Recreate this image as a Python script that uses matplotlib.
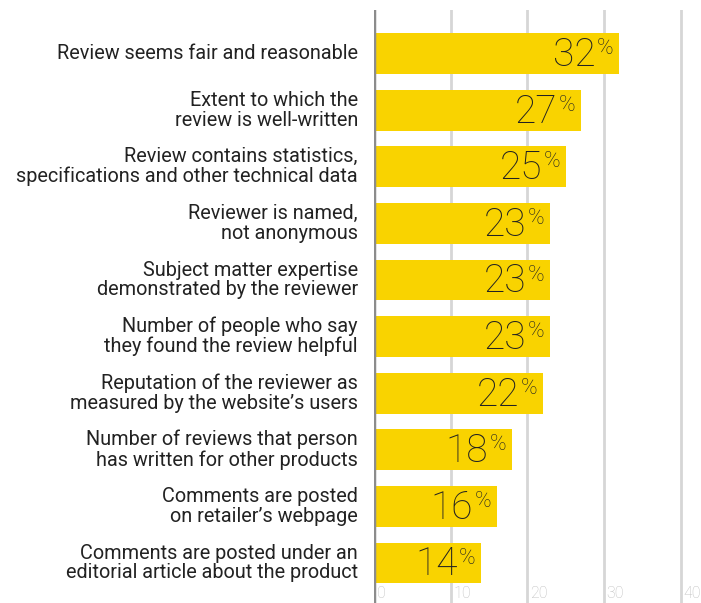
import matplotlib.pyplot as plt

# data
labels = [
    'Review seems fair and reasonable',
    'Extent to which the\nreview is well-written',
    'Review contains statistics,\nspecifications and other technical data',
    'Reviewer is named,\nnot anonymous',
    'Subject matter expertise\ndemonstrated by the reviewer',
    'Number of people who say\nthey found the review helpful',
    'Reputation of the reviewer as\nmeasured by the website\u2019s users',
    'Number of reviews that person\nhas written for other products',
    'Comments are posted\non retailer\u2019s webpage',
    'Comments are posted under an\neditorial article about the product',
]
values = [32, 27, 25, 23, 23, 23, 22, 18, 16, 14]
ticks = [0, 10, 20, 30, 40]

yellow = '#F9D300'
fnt = 'Roboto'

fig = plt.figure(figsize=(7.01, 6.03), dpi=100)
ax = fig.add_axes([374 / 701, 0, 327 / 701, 593 / 603])

ypos = list(range(len(values)))
ax.barh(ypos, values, height=0.72, color=yellow, zorder=2)

ax.set_xlim(0, 327 / 7.665)
ax.set_ylim(-0.769 + 10.477, -0.769)

for t in ticks[1:]:
    ax.axvline(t, color='#d6d6d6', lw=2, zorder=1)
ax.axvline(0, color='#8c8c8c', lw=2.5, zorder=3)

for s in ax.spines.values():
    s.set_visible(False)
ax.set_xticks([])
ax.set_yticks([])

# tick labels at the bottom, just right of each gridline
for t in ticks:
    ax.annotate(str(t), xy=(t, 0), xycoords=('data', 'figure fraction'),
                xytext=(2, 1.5), textcoords='offset points',
                ha='left', va='bottom', fontsize=11.5,
                color='#bfbfbf', family=fnt, fontweight='light')

# value labels: big number with a small raised percent sign
for y, v in zip(ypos, values):
    ax.annotate('%', xy=(v, y), xytext=(-4, 11), textcoords='offset points',
                ha='right', va='top', fontsize=16, color='#222222',
                family=fnt, fontweight='light')
    ax.annotate(str(v), xy=(v, y), xytext=(-17, -9), textcoords='offset points',
                ha='right', va='baseline', fontsize=28, color='#222222',
                family=fnt, fontweight='light')

# category labels
for y, lab in zip(ypos, labels):
    ax.text(-2.1, y, lab, ha='right', va='center', fontsize=14.3,
            color='#222222', family=fnt, linespacing=1.05)

fig.savefig('out.png', dpi=100)
